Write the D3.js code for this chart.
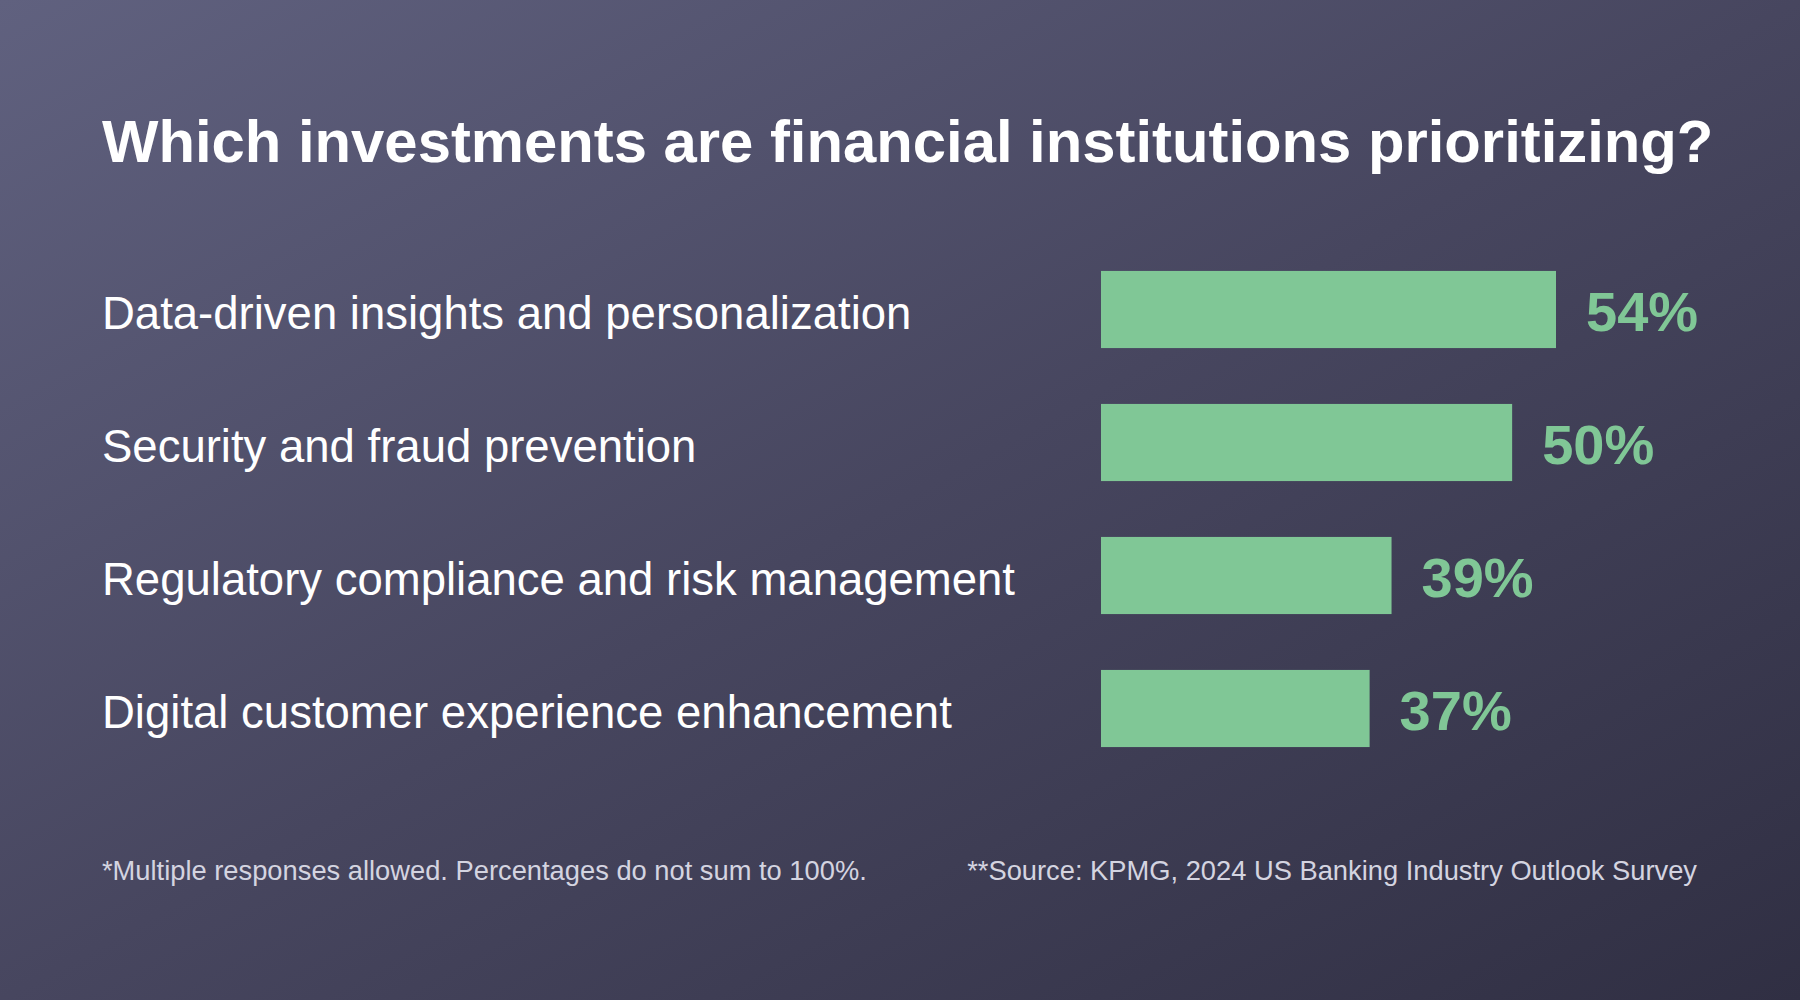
<!DOCTYPE html>
<html>
<head>
<meta charset="utf-8">
<script src="https://cdn.jsdelivr.net/npm/d3@7"></script>
<style>
  html, body { margin: 0; padding: 0; }
  body { width: 1800px; height: 1000px; overflow: hidden; }
  text { font-family: "Helvetica Neue", Helvetica, Arial, "Liberation Sans", sans-serif; }
</style>
</head>
<body>
<div id="container"></div>
<script>
/* CONSTANTS AND GLOBALS */
const width = 1800;
const height = 1000;

/* DATA */
const categories = [
  "Data-driven insights and personalization",
  "Security and fraud prevention",
  "Regulatory compliance and risk management",
  "Digital customer experience enhancement"
];
const values = [54, 50, 39, 37];
const valueLabels = ["54%", "50%", "39%", "37%"];

const title = "Which investments are financial institutions prioritizing?";
const noteLeft = "*Multiple responses allowed. Percentages do not sum to 100%.";
const noteRight = "**Source: KPMG, 2024 US Banking Industry Outlook Survey";

const data = categories.map((c, i) => ({ category: c, value: values[i], label: valueLabels[i] }));

/* SVG */
const svg = d3.select("#container")
  .append("svg")
  .attr("width", width)
  .attr("height", height);

// background gradient
const defs = svg.append("defs");
const grad = defs.append("linearGradient")
  .attr("id", "bg")
  .attr("x1", "0%").attr("y1", "0%")
  .attr("x2", "100%").attr("y2", "100%");
grad.append("stop").attr("offset", "0%").attr("stop-color", "#60617f");
grad.append("stop").attr("offset", "50%").attr("stop-color", "#47465f");
grad.append("stop").attr("offset", "100%").attr("stop-color", "#302f43");

svg.append("rect")
  .attr("width", width)
  .attr("height", height)
  .attr("fill", "url(#bg)");

// title
svg.append("text")
  .attr("x", 102)
  .attr("y", 162)
  .attr("fill", "#ffffff")
  .attr("font-size", 59.8)
  .attr("font-weight", "bold")
  .text(title);

/* SCALES */
const barLeft = 1101;
// bars in the original are not proportional from zero; this domain fits them
const xScale = d3.scaleLinear()
  .domain([12.5, 54])
  .range([0, 455]);

const yScale = d3.scaleBand()
  .domain(categories)
  .range([243, 775])
  .paddingInner(0.42)
  .paddingOuter(0.21);

// category labels
svg.selectAll("text.cat")
  .data(data)
  .join("text")
  .attr("class", "cat")
  .attr("x", 102)
  .attr("y", d => yScale(d.category) + yScale.bandwidth() / 2 + 19)
  .attr("fill", "#ffffff")
  .attr("font-size", 45.5)
  .text(d => d.category);

// bars
svg.selectAll("rect.bar")
  .data(data)
  .join("rect")
  .attr("class", "bar")
  .attr("x", barLeft)
  .attr("y", d => yScale(d.category))
  .attr("width", d => xScale(d.value))
  .attr("height", yScale.bandwidth())
  .attr("fill", "#80c796");

// value labels
svg.selectAll("text.val")
  .data(data)
  .join("text")
  .attr("class", "val")
  .attr("x", d => barLeft + xScale(d.value) + 30)
  .attr("y", d => yScale(d.category) + yScale.bandwidth() / 2 + 21)
  .attr("fill", "#80c796")
  .attr("font-size", 56)
  .attr("font-weight", "bold")
  .text(d => d.label);

// footnotes
svg.append("text")
  .attr("x", 102)
  .attr("y", 880)
  .attr("fill", "#d4d4e0")
  .attr("font-size", 27.3)
  .text(noteLeft);

svg.append("text")
  .attr("x", 1697)
  .attr("y", 880)
  .attr("text-anchor", "end")
  .attr("fill", "#d4d4e0")
  .attr("font-size", 27.3)
  .text(noteRight);
</script>
</body>
</html>
